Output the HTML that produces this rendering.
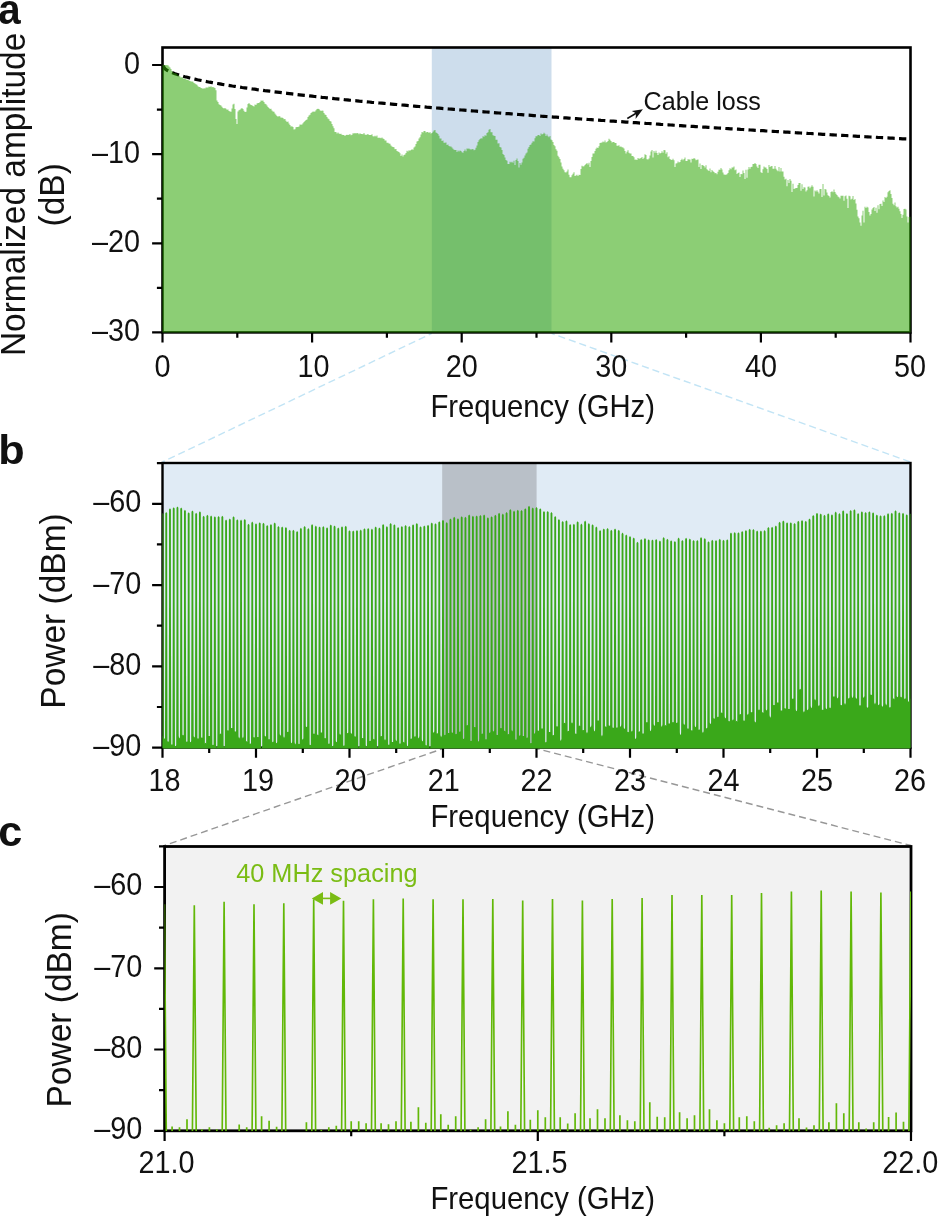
<!DOCTYPE html>
<html lang="en"><head><meta charset="utf-8"><title>Figure</title>
<style>html,body{margin:0;padding:0;background:#fff}svg{display:block}</style></head>
<body>
<svg width="939" height="1217" viewBox="0 0 939 1217" font-family='"Liberation Sans", Arial, Helvetica, sans-serif'>
<rect width="939" height="1217" fill="#fff"/>
<g fill="none" stroke="#c2e4f5" stroke-width="1.4" stroke-dasharray="7.2 3.9" stroke-dashoffset="3.8">
<path d="M431.8 333.4L162.5 462.0"/><path d="M551.5 333.4L910.5 462.0"/></g>
<g fill="none" stroke="#979797" stroke-width="1.4" stroke-dasharray="7 4" stroke-dashoffset="3.8">
<path d="M443.0 748.6L164.6 845.5"/><path d="M536.5 748.6L911.0 845.5"/></g>
<rect x="431.8" y="47.5" width="119.7" height="284.9" fill="#cdddec"/>
<rect x="162.5" y="47.5" width="748.0" height="284.9" fill="none" stroke="#000" stroke-width="2.6"/>
<path d="M162.5 332.4v10.2M312.1 332.4v10.2M461.7 332.4v10.2M611.3 332.4v10.2M760.9 332.4v10.2M910.5 332.4v10.2M237.3 332.4v5.4M386.9 332.4v5.4M536.5 332.4v5.4M686.1 332.4v5.4M835.7 332.4v5.4M162.5 65.0h-10.4M162.5 154.1h-10.4M162.5 243.3h-10.4M162.5 332.4h-10.4M162.5 109.6h-5.6M162.5 198.7h-5.6M162.5 287.8h-5.6" fill="none" stroke="#000" stroke-width="2.2"/>
<path d="M162.5 65.0L165.0 68.8L167.5 70.5L170.0 71.7L172.5 72.7L175.0 73.7L177.4 74.5L179.9 75.3L182.4 76.0L184.9 76.7L187.4 77.3L189.9 78.0L192.4 78.6L194.9 79.1L197.4 79.7L199.9 80.2L202.4 80.7L204.9 81.2L207.3 81.7L209.8 82.2L212.3 82.6L214.8 83.1L217.3 83.5L219.8 83.9L222.3 84.4L224.8 84.8L227.3 85.2L229.8 85.6L232.3 86.0L234.8 86.3L237.2 86.7L239.7 87.1L242.2 87.5L244.7 87.8L247.2 88.2L249.7 88.5L252.2 88.9L254.7 89.2L257.2 89.6L259.7 89.9L262.2 90.2L264.7 90.6L267.1 90.9L269.6 91.2L272.1 91.5L274.6 91.8L277.1 92.1L279.6 92.4L282.1 92.7L284.6 93.0L287.1 93.3L289.6 93.6L292.1 93.9L294.6 94.2L297.0 94.5L299.5 94.8L302.0 95.1L304.5 95.4L307.0 95.6L309.5 95.9L312.0 96.2L314.5 96.5L317.0 96.7L319.5 97.0L322.0 97.3L324.5 97.5L326.9 97.8L329.4 98.1L331.9 98.3L334.4 98.6L336.9 98.8L339.4 99.1L341.9 99.3L344.4 99.6L346.9 99.8L349.4 100.1L351.9 100.3L354.4 100.6L356.8 100.8L359.3 101.1L361.8 101.3L364.3 101.5L366.8 101.8L369.3 102.0L371.8 102.3L374.3 102.5L376.8 102.7L379.3 103.0L381.8 103.2L384.3 103.4L386.7 103.6L389.2 103.9L391.7 104.1L394.2 104.3L396.7 104.5L399.2 104.8L401.7 105.0L404.2 105.2L406.7 105.4L409.2 105.6L411.7 105.9L414.2 106.1L416.6 106.3L419.1 106.5L421.6 106.7L424.1 106.9L426.6 107.2L429.1 107.4L431.6 107.6L434.1 107.8L436.6 108.0L439.1 108.2L441.6 108.4L444.1 108.6L446.5 108.8L449.0 109.0L451.5 109.2L454.0 109.4L456.5 109.6L459.0 109.8L461.5 110.0L464.0 110.2L466.5 110.4L469.0 110.6L471.5 110.8L474.0 111.0L476.4 111.2L478.9 111.4L481.4 111.6L483.9 111.8L486.4 112.0L488.9 112.2L491.4 112.4L493.9 112.6L496.4 112.8L498.9 113.0L501.4 113.2L503.9 113.4L506.3 113.6L508.8 113.7L511.3 113.9L513.8 114.1L516.3 114.3L518.8 114.5L521.3 114.7L523.8 114.9L526.3 115.1L528.8 115.2L531.3 115.4L533.8 115.6L536.2 115.8L538.7 116.0L541.2 116.2L543.7 116.3L546.2 116.5L548.7 116.7L551.2 116.9L553.7 117.1L556.2 117.2L558.7 117.4L561.2 117.6L563.7 117.8L566.1 117.9L568.6 118.1L571.1 118.3L573.6 118.5L576.1 118.6L578.6 118.8L581.1 119.0L583.6 119.2L586.1 119.3L588.6 119.5L591.1 119.7L593.6 119.9L596.0 120.0L598.5 120.2L601.0 120.4L603.5 120.5L606.0 120.7L608.5 120.9L611.0 121.1L613.5 121.2L616.0 121.4L618.5 121.6L621.0 121.7L623.5 121.9L625.9 122.1L628.4 122.2L630.9 122.4L633.4 122.6L635.9 122.7L638.4 122.9L640.9 123.1L643.4 123.2L645.9 123.4L648.4 123.5L650.9 123.7L653.4 123.9L655.8 124.0L658.3 124.2L660.8 124.4L663.3 124.5L665.8 124.7L668.3 124.8L670.8 125.0L673.3 125.2L675.8 125.3L678.3 125.5L680.8 125.6L683.3 125.8L685.7 126.0L688.2 126.1L690.7 126.3L693.2 126.4L695.7 126.6L698.2 126.8L700.7 126.9L703.2 127.1L705.7 127.2L708.2 127.4L710.7 127.5L713.2 127.7L715.6 127.8L718.1 128.0L720.6 128.2L723.1 128.3L725.6 128.5L728.1 128.6L730.6 128.8L733.1 128.9L735.6 129.1L738.1 129.2L740.6 129.4L743.1 129.5L745.5 129.7L748.0 129.8L750.5 130.0L753.0 130.1L755.5 130.3L758.0 130.4L760.5 130.6L763.0 130.7L765.5 130.9L768.0 131.0L770.5 131.2L773.0 131.3L775.4 131.5L777.9 131.6L780.4 131.8L782.9 131.9L785.4 132.1L787.9 132.2L790.4 132.4L792.9 132.5L795.4 132.7L797.9 132.8L800.4 133.0L802.9 133.1L805.3 133.2L807.8 133.4L810.3 133.5L812.8 133.7L815.3 133.8L817.8 134.0L820.3 134.1L822.8 134.3L825.3 134.4L827.8 134.5L830.3 134.7L832.8 134.8L835.2 135.0L837.7 135.1L840.2 135.3L842.7 135.4L845.2 135.5L847.7 135.7L850.2 135.8L852.7 136.0L855.2 136.1L857.7 136.3L860.2 136.4L862.7 136.5L865.1 136.7L867.6 136.8L870.1 137.0L872.6 137.1L875.1 137.2L877.6 137.4L880.1 137.5L882.6 137.7L885.1 137.8L887.6 137.9L890.1 138.1L892.6 138.2L895.0 138.3L897.5 138.5L900.0 138.6L902.5 138.8L905.0 138.9L907.5 139.0" fill="none" stroke="#000" stroke-width="3.2" stroke-dasharray="7.3 4.3" stroke-dashoffset="10.54"/>
<path d="M162.5 332.4L162.5 64.8L163.5 64.8L163.5 65.6L164.5 65.6L164.5 64.9L165.5 64.9L165.5 65.1L166.5 65.1L166.5 65.3L167.5 65.3L167.5 65.3L168.5 65.3L168.5 66.6L169.5 66.6L169.5 67.4L170.5 67.4L170.5 69.1L171.5 69.1L171.5 70.9L172.5 70.9L172.5 72.4L173.5 72.4L173.5 73.2L174.5 73.2L174.5 73.2L175.5 73.2L175.5 73.4L176.5 73.4L176.5 74.3L177.5 74.3L177.5 75.8L178.5 75.8L178.5 75.5L179.5 75.5L179.5 76.4L180.5 76.4L180.5 77.7L181.5 77.7L181.5 76.9L182.5 76.9L182.5 78.1L183.5 78.1L183.5 79.0L184.5 79.0L184.5 78.4L185.5 78.4L185.5 79.2L186.5 79.2L186.5 80.1L187.5 80.1L187.5 79.4L188.5 79.4L188.5 80.4L189.5 80.4L189.5 81.1L190.5 81.1L190.5 81.4L191.5 81.4L191.5 81.5L192.5 81.5L192.5 81.8L193.5 81.8L193.5 82.9L194.5 82.9L194.5 83.4L195.5 83.4L195.5 84.3L196.5 84.3L196.5 84.8L197.5 84.8L197.5 86.3L198.5 86.3L198.5 86.9L199.5 86.9L199.5 86.9L200.5 86.9L200.5 88.0L201.5 88.0L201.5 88.2L202.5 88.2L202.5 88.8L203.5 88.8L203.5 88.3L204.5 88.3L204.5 88.4L205.5 88.4L205.5 87.6L206.5 87.6L206.5 87.4L207.5 87.4L207.5 87.4L208.5 87.4L208.5 86.6L209.5 86.6L209.5 87.0L210.5 87.0L210.5 86.2L211.5 86.2L211.5 87.3L212.5 87.3L212.5 87.1L213.5 87.1L213.5 87.4L214.5 87.4L214.5 88.0L215.5 88.0L215.5 90.2L216.5 90.2L216.5 100.6L217.5 100.6L217.5 101.9L218.5 101.9L218.5 104.3L219.5 104.3L219.5 104.9L220.5 104.9L220.5 105.5L221.5 105.5L221.5 106.7L222.5 106.7L222.5 108.1L223.5 108.1L223.5 108.5L224.5 108.5L224.5 108.0L225.5 108.0L225.5 108.8L226.5 108.8L226.5 109.7L227.5 109.7L227.5 109.5L228.5 109.5L228.5 111.1L229.5 111.1L229.5 111.5L230.5 111.5L230.5 111.8L231.5 111.8L231.5 108.6L232.5 108.6L232.5 104.6L233.5 104.6L233.5 103.7L234.5 103.7L234.5 109.1L235.5 109.1L235.5 119.0L236.5 119.0L236.5 124.0L237.5 124.0L237.5 111.6L238.5 111.6L238.5 110.2L239.5 110.2L239.5 109.7L240.5 109.7L240.5 108.8L241.5 108.8L241.5 107.9L242.5 107.9L242.5 109.0L243.5 109.0L243.5 110.7L244.5 110.7L244.5 112.1L245.5 112.1L245.5 111.7L246.5 111.7L246.5 107.5L247.5 107.5L247.5 104.0L248.5 104.0L248.5 103.1L249.5 103.1L249.5 104.2L250.5 104.2L250.5 105.0L251.5 105.0L251.5 105.3L252.5 105.3L252.5 106.1L253.5 106.1L253.5 106.5L254.5 106.5L254.5 104.4L255.5 104.4L255.5 105.1L256.5 105.1L256.5 103.4L257.5 103.4L257.5 103.1L258.5 103.1L258.5 102.9L259.5 102.9L259.5 102.1L260.5 102.1L260.5 100.5L261.5 100.5L261.5 100.7L262.5 100.7L262.5 100.4L263.5 100.4L263.5 102.0L264.5 102.0L264.5 103.8L265.5 103.8L265.5 104.2L266.5 104.2L266.5 105.6L267.5 105.6L267.5 106.9L268.5 106.9L268.5 108.0L269.5 108.0L269.5 108.9L270.5 108.9L270.5 108.7L271.5 108.7L271.5 110.4L272.5 110.4L272.5 111.4L273.5 111.4L273.5 111.7L274.5 111.7L274.5 113.6L275.5 113.6L275.5 114.7L276.5 114.7L276.5 116.1L277.5 116.1L277.5 116.8L278.5 116.8L278.5 115.9L279.5 115.9L279.5 116.6L280.5 116.6L280.5 117.8L281.5 117.8L281.5 117.4L282.5 117.4L282.5 118.1L283.5 118.1L283.5 119.2L284.5 119.2L284.5 119.0L285.5 119.0L285.5 120.7L286.5 120.7L286.5 121.9L287.5 121.9L287.5 121.5L288.5 121.5L288.5 123.5L289.5 123.5L289.5 125.0L290.5 125.0L290.5 126.4L291.5 126.4L291.5 126.2L292.5 126.2L292.5 127.1L293.5 127.1L293.5 129.5L294.5 129.5L294.5 129.2L295.5 129.2L295.5 127.3L296.5 127.3L296.5 127.0L297.5 127.0L297.5 126.9L298.5 126.9L298.5 126.5L299.5 126.5L299.5 124.6L300.5 124.6L300.5 124.8L301.5 124.8L301.5 124.4L302.5 124.4L302.5 123.3L303.5 123.3L303.5 121.9L304.5 121.9L304.5 120.9L305.5 120.9L305.5 120.0L306.5 120.0L306.5 119.6L307.5 119.6L307.5 116.9L308.5 116.9L308.5 115.5L309.5 115.5L309.5 114.8L310.5 114.8L310.5 113.0L311.5 113.0L311.5 112.3L312.5 112.3L312.5 111.5L313.5 111.5L313.5 111.7L314.5 111.7L314.5 111.4L315.5 111.4L315.5 110.2L316.5 110.2L316.5 109.0L317.5 109.0L317.5 108.7L318.5 108.7L318.5 109.0L319.5 109.0L319.5 110.3L320.5 110.3L320.5 111.1L321.5 111.1L321.5 110.5L322.5 110.5L322.5 110.8L323.5 110.8L323.5 113.0L324.5 113.0L324.5 114.5L325.5 114.5L325.5 115.0L326.5 115.0L326.5 116.9L327.5 116.9L327.5 118.4L328.5 118.4L328.5 119.2L329.5 119.2L329.5 121.1L330.5 121.1L330.5 121.4L331.5 121.4L331.5 124.0L332.5 124.0L332.5 126.3L333.5 126.3L333.5 128.2L334.5 128.2L334.5 131.9L335.5 131.9L335.5 131.9L336.5 131.9L336.5 133.4L337.5 133.4L337.5 132.6L338.5 132.6L338.5 133.5L339.5 133.5L339.5 133.9L340.5 133.9L340.5 133.8L341.5 133.8L341.5 134.8L342.5 134.8L342.5 135.1L343.5 135.1L343.5 135.0L344.5 135.0L344.5 136.1L345.5 136.1L345.5 135.0L346.5 135.0L346.5 134.8L347.5 134.8L347.5 134.9L348.5 134.9L348.5 134.7L349.5 134.7L349.5 134.1L350.5 134.1L350.5 135.2L351.5 135.2L351.5 134.8L352.5 134.8L352.5 133.2L353.5 133.2L353.5 133.4L354.5 133.4L354.5 133.1L355.5 133.1L355.5 133.4L356.5 133.4L356.5 133.0L357.5 133.0L357.5 133.3L358.5 133.3L358.5 134.2L359.5 134.2L359.5 133.3L360.5 133.3L360.5 133.9L361.5 133.9L361.5 133.9L362.5 133.9L362.5 134.3L363.5 134.3L363.5 133.1L364.5 133.1L364.5 134.5L365.5 134.5L365.5 135.0L366.5 135.0L366.5 134.5L367.5 134.5L367.5 134.0L368.5 134.0L368.5 134.9L369.5 134.9L369.5 135.0L370.5 135.0L370.5 135.1L371.5 135.1L371.5 134.3L372.5 134.3L372.5 136.2L373.5 136.2L373.5 136.5L374.5 136.5L374.5 135.8L375.5 135.8L375.5 136.4L376.5 136.4L376.5 135.6L377.5 135.6L377.5 137.7L378.5 137.7L378.5 137.7L379.5 137.7L379.5 137.7L380.5 137.7L380.5 138.2L381.5 138.2L381.5 137.4L382.5 137.4L382.5 138.4L383.5 138.4L383.5 139.1L384.5 139.1L384.5 140.6L385.5 140.6L385.5 140.4L386.5 140.4L386.5 142.8L387.5 142.8L387.5 142.7L388.5 142.7L388.5 143.5L389.5 143.5L389.5 143.7L390.5 143.7L390.5 145.6L391.5 145.6L391.5 146.6L392.5 146.6L392.5 147.1L393.5 147.1L393.5 147.3L394.5 147.3L394.5 149.2L395.5 149.2L395.5 148.9L396.5 148.9L396.5 151.1L397.5 151.1L397.5 151.5L398.5 151.5L398.5 151.9L399.5 151.9L399.5 153.2L400.5 153.2L400.5 155.9L401.5 155.9L401.5 154.5L402.5 154.5L402.5 156.6L403.5 156.6L403.5 154.9L404.5 154.9L404.5 154.4L405.5 154.4L405.5 153.0L406.5 153.0L406.5 150.8L407.5 150.8L407.5 151.4L408.5 151.4L408.5 150.3L409.5 150.3L409.5 150.8L410.5 150.8L410.5 149.9L411.5 149.9L411.5 149.3L412.5 149.3L412.5 149.8L413.5 149.8L413.5 147.5L414.5 147.5L414.5 146.5L415.5 146.5L415.5 144.1L416.5 144.1L416.5 141.5L417.5 141.5L417.5 140.9L418.5 140.9L418.5 138.5L419.5 138.5L419.5 137.2L420.5 137.2L420.5 134.6L421.5 134.6L421.5 132.1L422.5 132.1L422.5 132.6L423.5 132.6L423.5 131.0L424.5 131.0L424.5 131.0L425.5 131.0L425.5 132.5L426.5 132.5L426.5 131.9L427.5 131.9L427.5 132.0L428.5 132.0L428.5 133.1L429.5 133.1L429.5 132.1L430.5 132.1L430.5 133.4L431.5 133.4L431.5 133.0L432.5 133.0L432.5 131.7L433.5 131.7L433.5 130.5L434.5 130.5L434.5 130.1L435.5 130.1L435.5 132.6L436.5 132.6L436.5 133.0L437.5 133.0L437.5 134.0L438.5 134.0L438.5 135.8L439.5 135.8L439.5 138.5L440.5 138.5L440.5 138.5L441.5 138.5L441.5 141.0L442.5 141.0L442.5 140.4L443.5 140.4L443.5 142.8L444.5 142.8L444.5 142.7L445.5 142.7L445.5 142.5L446.5 142.5L446.5 145.0L447.5 145.0L447.5 144.6L448.5 144.6L448.5 146.1L449.5 146.1L449.5 146.5L450.5 146.5L450.5 146.6L451.5 146.6L451.5 147.6L452.5 147.6L452.5 148.7L453.5 148.7L453.5 149.7L454.5 149.7L454.5 150.0L455.5 150.0L455.5 150.1L456.5 150.1L456.5 152.0L457.5 152.0L457.5 150.4L458.5 150.4L458.5 151.4L459.5 151.4L459.5 150.6L460.5 150.6L460.5 151.0L461.5 151.0L461.5 152.3L462.5 152.3L462.5 152.7L463.5 152.7L463.5 151.1L464.5 151.1L464.5 149.5L465.5 149.5L465.5 151.2L466.5 151.2L466.5 148.5L467.5 148.5L467.5 148.7L468.5 148.7L468.5 148.5L469.5 148.5L469.5 149.3L470.5 149.3L470.5 149.4L471.5 149.4L471.5 149.2L472.5 149.2L472.5 149.0L473.5 149.0L473.5 150.3L474.5 150.3L474.5 149.7L475.5 149.7L475.5 147.7L476.5 147.7L476.5 145.4L477.5 145.4L477.5 141.9L478.5 141.9L478.5 140.3L479.5 140.3L479.5 138.9L480.5 138.9L480.5 138.3L481.5 138.3L481.5 138.4L482.5 138.4L482.5 136.3L483.5 136.3L483.5 136.7L484.5 136.7L484.5 135.3L485.5 135.3L485.5 135.7L486.5 135.7L486.5 133.0L487.5 133.0L487.5 132.2L488.5 132.2L488.5 129.8L489.5 129.8L489.5 128.9L490.5 128.9L490.5 132.3L491.5 132.3L491.5 132.2L492.5 132.2L492.5 135.2L493.5 135.2L493.5 135.8L494.5 135.8L494.5 136.1L495.5 136.1L495.5 139.8L496.5 139.8L496.5 139.8L497.5 139.8L497.5 143.6L498.5 143.6L498.5 143.3L499.5 143.3L499.5 146.9L500.5 146.9L500.5 147.4L501.5 147.4L501.5 150.0L502.5 150.0L502.5 153.9L503.5 153.9L503.5 154.9L504.5 154.9L504.5 157.6L505.5 157.6L505.5 160.1L506.5 160.1L506.5 160.7L507.5 160.7L507.5 164.0L508.5 164.0L508.5 164.0L509.5 164.0L509.5 161.7L510.5 161.7L510.5 162.6L511.5 162.6L511.5 161.7L512.5 161.7L512.5 162.8L513.5 162.8L513.5 160.7L514.5 160.7L514.5 165.0L515.5 165.0L515.5 160.1L516.5 160.1L516.5 158.6L517.5 158.6L517.5 161.1L518.5 161.1L518.5 167.6L519.5 167.6L519.5 163.0L520.5 163.0L520.5 164.8L521.5 164.8L521.5 162.6L522.5 162.6L522.5 158.8L523.5 158.8L523.5 157.7L524.5 157.7L524.5 155.4L525.5 155.4L525.5 153.4L526.5 153.4L526.5 152.5L527.5 152.5L527.5 148.7L528.5 148.7L528.5 147.0L529.5 147.0L529.5 145.0L530.5 145.0L530.5 144.5L531.5 144.5L531.5 142.8L532.5 142.8L532.5 141.3L533.5 141.3L533.5 141.5L534.5 141.5L534.5 138.3L535.5 138.3L535.5 136.2L536.5 136.2L536.5 136.2L537.5 136.2L537.5 134.9L538.5 134.9L538.5 135.0L539.5 135.0L539.5 136.1L540.5 136.1L540.5 133.4L541.5 133.4L541.5 134.4L542.5 134.4L542.5 134.1L543.5 134.1L543.5 132.7L544.5 132.7L544.5 133.8L545.5 133.8L545.5 136.0L546.5 136.0L546.5 134.5L547.5 134.5L547.5 136.2L548.5 136.2L548.5 137.2L549.5 137.2L549.5 136.1L550.5 136.1L550.5 139.4L551.5 139.4L551.5 140.3L552.5 140.3L552.5 142.1L553.5 142.1L553.5 145.0L554.5 145.0L554.5 146.2L555.5 146.2L555.5 149.3L556.5 149.3L556.5 150.7L557.5 150.7L557.5 155.7L558.5 155.7L558.5 157.2L559.5 157.2L559.5 159.0L560.5 159.0L560.5 162.4L561.5 162.4L561.5 166.6L562.5 166.6L562.5 168.8L563.5 168.8L563.5 170.2L564.5 170.2L564.5 172.2L565.5 172.2L565.5 172.5L566.5 172.5L566.5 171.5L567.5 171.5L567.5 169.4L568.5 169.4L568.5 174.7L569.5 174.7L569.5 177.3L570.5 177.3L570.5 177.2L571.5 177.2L571.5 175.3L572.5 175.3L572.5 173.8L573.5 173.8L573.5 172.3L574.5 172.3L574.5 175.9L575.5 175.9L575.5 175.6L576.5 175.6L576.5 174.7L577.5 174.7L577.5 175.9L578.5 175.9L578.5 174.7L579.5 174.7L579.5 175.0L580.5 175.0L580.5 168.9L581.5 168.9L581.5 165.8L582.5 165.8L582.5 166.5L583.5 166.5L583.5 166.3L584.5 166.3L584.5 165.1L585.5 165.1L585.5 164.0L586.5 164.0L586.5 163.0L587.5 163.0L587.5 164.5L588.5 164.5L588.5 162.7L589.5 162.7L589.5 167.1L590.5 167.1L590.5 160.9L591.5 160.9L591.5 157.1L592.5 157.1L592.5 153.6L593.5 153.6L593.5 153.4L594.5 153.4L594.5 150.9L595.5 150.9L595.5 148.7L596.5 148.7L596.5 147.4L597.5 147.4L597.5 147.9L598.5 147.9L598.5 146.3L599.5 146.3L599.5 142.9L600.5 142.9L600.5 142.8L601.5 142.8L601.5 142.6L602.5 142.6L602.5 141.5L603.5 141.5L603.5 142.2L604.5 142.2L604.5 140.5L605.5 140.5L605.5 142.6L606.5 142.6L606.5 141.9L607.5 141.9L607.5 141.0L608.5 141.0L608.5 138.7L609.5 138.7L609.5 139.7L610.5 139.7L610.5 141.0L611.5 141.0L611.5 142.4L612.5 142.4L612.5 142.0L613.5 142.0L613.5 142.1L614.5 142.1L614.5 143.0L615.5 143.0L615.5 143.0L616.5 143.0L616.5 145.8L617.5 145.8L617.5 145.8L618.5 145.8L618.5 145.2L619.5 145.2L619.5 146.8L620.5 146.8L620.5 146.6L621.5 146.6L621.5 147.3L622.5 147.3L622.5 147.4L623.5 147.4L623.5 148.5L624.5 148.5L624.5 151.0L625.5 151.0L625.5 153.5L626.5 153.5L626.5 151.8L627.5 151.8L627.5 150.3L628.5 150.3L628.5 152.8L629.5 152.8L629.5 153.4L630.5 153.4L630.5 153.6L631.5 153.6L631.5 155.9L632.5 155.9L632.5 155.9L633.5 155.9L633.5 157.3L634.5 157.3L634.5 159.7L635.5 159.7L635.5 159.6L636.5 159.6L636.5 160.0L637.5 160.0L637.5 158.1L638.5 158.1L638.5 158.7L639.5 158.7L639.5 158.5L640.5 158.5L640.5 157.9L641.5 157.9L641.5 157.0L642.5 157.0L642.5 159.1L643.5 159.1L643.5 157.8L644.5 157.8L644.5 154.3L645.5 154.3L645.5 155.1L646.5 155.1L646.5 159.3L647.5 159.3L647.5 159.6L648.5 159.6L648.5 158.5L649.5 158.5L649.5 155.5L650.5 155.5L650.5 151.5L651.5 151.5L651.5 150.1L652.5 150.1L652.5 157.4L653.5 157.4L653.5 151.0L654.5 151.0L654.5 152.7L655.5 152.7L655.5 150.7L656.5 150.7L656.5 153.1L657.5 153.1L657.5 155.1L658.5 155.1L658.5 152.5L659.5 152.5L659.5 153.4L660.5 153.4L660.5 153.1L661.5 153.1L661.5 151.2L662.5 151.2L662.5 152.7L663.5 152.7L663.5 150.1L664.5 150.1L664.5 150.3L665.5 150.3L665.5 153.7L666.5 153.7L666.5 152.3L667.5 152.3L667.5 157.2L668.5 157.2L668.5 156.3L669.5 156.3L669.5 158.9L670.5 158.9L670.5 159.7L671.5 159.7L671.5 160.0L672.5 160.0L672.5 158.8L673.5 158.8L673.5 160.2L674.5 160.2L674.5 167.0L675.5 167.0L675.5 163.4L676.5 163.4L676.5 163.2L677.5 163.2L677.5 161.6L678.5 161.6L678.5 162.6L679.5 162.6L679.5 162.1L680.5 162.1L680.5 160.0L681.5 160.0L681.5 158.7L682.5 158.7L682.5 160.2L683.5 160.2L683.5 158.9L684.5 158.9L684.5 157.4L685.5 157.4L685.5 161.0L686.5 161.0L686.5 160.9L687.5 160.9L687.5 159.3L688.5 159.3L688.5 159.5L689.5 159.5L689.5 159.6L690.5 159.6L690.5 162.5L691.5 162.5L691.5 158.8L692.5 158.8L692.5 159.1L693.5 159.1L693.5 158.1L694.5 158.1L694.5 158.7L695.5 158.7L695.5 160.3L696.5 160.3L696.5 159.8L697.5 159.8L697.5 159.6L698.5 159.6L698.5 166.9L699.5 166.9L699.5 163.4L700.5 163.4L700.5 169.1L701.5 169.1L701.5 165.0L702.5 165.0L702.5 165.2L703.5 165.2L703.5 165.9L704.5 165.9L704.5 167.6L705.5 167.6L705.5 165.3L706.5 165.3L706.5 169.3L707.5 169.3L707.5 170.2L708.5 170.2L708.5 171.1L709.5 171.1L709.5 168.6L710.5 168.6L710.5 172.2L711.5 172.2L711.5 170.0L712.5 170.0L712.5 171.3L713.5 171.3L713.5 172.1L714.5 172.1L714.5 173.2L715.5 173.2L715.5 172.9L716.5 172.9L716.5 174.3L717.5 174.3L717.5 171.7L718.5 171.7L718.5 169.7L719.5 169.7L719.5 169.7L720.5 169.7L720.5 167.9L721.5 167.9L721.5 169.5L722.5 169.5L722.5 172.6L723.5 172.6L723.5 174.4L724.5 174.4L724.5 174.8L725.5 174.8L725.5 174.8L726.5 174.8L726.5 174.3L727.5 174.3L727.5 172.9L728.5 172.9L728.5 170.3L729.5 170.3L729.5 168.3L730.5 168.3L730.5 169.3L731.5 169.3L731.5 167.6L732.5 167.6L732.5 167.6L733.5 167.6L733.5 166.4L734.5 166.4L734.5 170.2L735.5 170.2L735.5 169.5L736.5 169.5L736.5 174.0L737.5 174.0L737.5 173.1L738.5 173.1L738.5 172.6L739.5 172.6L739.5 177.0L740.5 177.0L740.5 174.1L741.5 174.1L741.5 174.2L742.5 174.2L742.5 170.5L743.5 170.5L743.5 172.9L744.5 172.9L744.5 179.0L745.5 179.0L745.5 169.7L746.5 169.7L746.5 177.8L747.5 177.8L747.5 169.6L748.5 169.6L748.5 167.0L749.5 167.0L749.5 168.8L750.5 168.8L750.5 167.0L751.5 167.0L751.5 166.7L752.5 166.7L752.5 163.9L753.5 163.9L753.5 164.1L754.5 164.1L754.5 163.1L755.5 163.1L755.5 164.1L756.5 164.1L756.5 166.5L757.5 166.5L757.5 168.1L758.5 168.1L758.5 164.8L759.5 164.8L759.5 164.8L760.5 164.8L760.5 172.3L761.5 172.3L761.5 173.0L762.5 173.0L762.5 169.2L763.5 169.2L763.5 166.4L764.5 166.4L764.5 167.5L765.5 167.5L765.5 167.6L766.5 167.6L766.5 169.0L767.5 169.0L767.5 172.7L768.5 172.7L768.5 164.9L769.5 164.9L769.5 167.1L770.5 167.1L770.5 166.3L771.5 166.3L771.5 166.1L772.5 166.1L772.5 168.7L773.5 168.7L773.5 168.7L774.5 168.7L774.5 166.1L775.5 166.1L775.5 168.7L776.5 168.7L776.5 170.3L777.5 170.3L777.5 171.2L778.5 171.2L778.5 167.1L779.5 167.1L779.5 171.5L780.5 171.5L780.5 168.1L781.5 168.1L781.5 171.6L782.5 171.6L782.5 171.5L783.5 171.5L783.5 176.8L784.5 176.8L784.5 179.6L785.5 179.6L785.5 178.7L786.5 178.7L786.5 186.3L787.5 186.3L787.5 179.9L788.5 179.9L788.5 183.0L789.5 183.0L789.5 179.1L790.5 179.1L790.5 180.8L791.5 180.8L791.5 192.0L792.5 192.0L792.5 183.7L793.5 183.7L793.5 188.9L794.5 188.9L794.5 188.5L795.5 188.5L795.5 188.0L796.5 188.0L796.5 188.1L797.5 188.1L797.5 185.0L798.5 185.0L798.5 182.9L799.5 182.9L799.5 182.9L800.5 182.9L800.5 190.7L801.5 190.7L801.5 184.2L802.5 184.2L802.5 189.1L803.5 189.1L803.5 187.3L804.5 187.3L804.5 187.6L805.5 187.6L805.5 191.6L806.5 191.6L806.5 190.2L807.5 190.2L807.5 186.7L808.5 186.7L808.5 186.4L809.5 186.4L809.5 188.3L810.5 188.3L810.5 186.7L811.5 186.7L811.5 185.3L812.5 185.3L812.5 186.8L813.5 186.8L813.5 196.5L814.5 196.5L814.5 190.5L815.5 190.5L815.5 191.6L816.5 191.6L816.5 190.3L817.5 190.3L817.5 191.8L818.5 191.8L818.5 193.5L819.5 193.5L819.5 189.1L820.5 189.1L820.5 188.9L821.5 188.9L821.5 197.0L822.5 197.0L822.5 184.0L823.5 184.0L823.5 195.4L824.5 195.4L824.5 189.1L825.5 189.1L825.5 189.5L826.5 189.5L826.5 192.6L827.5 192.6L827.5 195.3L828.5 195.3L828.5 196.1L829.5 196.1L829.5 197.4L830.5 197.4L830.5 191.9L831.5 191.9L831.5 191.3L832.5 191.3L832.5 192.3L833.5 192.3L833.5 189.5L834.5 189.5L834.5 192.0L835.5 192.0L835.5 193.8L836.5 193.8L836.5 194.9L837.5 194.9L837.5 196.5L838.5 196.5L838.5 197.3L839.5 197.3L839.5 198.6L840.5 198.6L840.5 195.8L841.5 195.8L841.5 195.7L842.5 195.7L842.5 195.7L843.5 195.7L843.5 200.8L844.5 200.8L844.5 196.3L845.5 196.3L845.5 195.5L846.5 195.5L846.5 198.7L847.5 198.7L847.5 208.1L848.5 208.1L848.5 195.7L849.5 195.7L849.5 196.2L850.5 196.2L850.5 199.6L851.5 199.6L851.5 198.7L852.5 198.7L852.5 196.1L853.5 196.1L853.5 199.9L854.5 199.9L854.5 199.0L855.5 199.0L855.5 203.5L856.5 203.5L856.5 209.8L857.5 209.8L857.5 216.6L858.5 216.6L858.5 218.3L859.5 218.3L859.5 222.4L860.5 222.4L860.5 225.7L861.5 225.7L861.5 215.4L862.5 215.4L862.5 210.7L863.5 210.7L863.5 222.6L864.5 222.6L864.5 206.7L865.5 206.7L865.5 207.9L866.5 207.9L866.5 206.7L867.5 206.7L867.5 207.4L868.5 207.4L868.5 212.1L869.5 212.1L869.5 215.6L870.5 215.6L870.5 214.1L871.5 214.1L871.5 209.4L872.5 209.4L872.5 208.0L873.5 208.0L873.5 207.1L874.5 207.1L874.5 211.1L875.5 211.1L875.5 207.8L876.5 207.8L876.5 212.7L877.5 212.7L877.5 205.3L878.5 205.3L878.5 209.2L879.5 209.2L879.5 204.0L880.5 204.0L880.5 203.7L881.5 203.7L881.5 206.0L882.5 206.0L882.5 200.6L883.5 200.6L883.5 202.1L884.5 202.1L884.5 197.0L885.5 197.0L885.5 198.0L886.5 198.0L886.5 196.8L887.5 196.8L887.5 192.2L888.5 192.2L888.5 190.9L889.5 190.9L889.5 190.3L890.5 190.3L890.5 194.0L891.5 194.0L891.5 198.0L892.5 198.0L892.5 203.8L893.5 203.8L893.5 205.3L894.5 205.3L894.5 202.4L895.5 202.4L895.5 206.3L896.5 206.3L896.5 207.6L897.5 207.6L897.5 206.7L898.5 206.7L898.5 208.8L899.5 208.8L899.5 211.3L900.5 211.3L900.5 214.0L901.5 214.0L901.5 218.1L902.5 218.1L902.5 214.7L903.5 214.7L903.5 208.9L904.5 208.9L904.5 208.7L905.5 208.7L905.5 209.4L906.5 209.4L906.5 216.4L907.5 216.4L907.5 222.5L908.5 222.5L908.5 217.0L909.5 217.0L909.5 216.8L910.5 216.8L910.5 220.6L910.5 220.6L910.5 332.4Z" fill="rgb(46,166,4)" fill-opacity="0.55"/>
<path d="M627.3 118.5L637 112.8" stroke="#111" stroke-width="1.6" fill="none"/>
<path d="M642.9 109.2L631.8 110.9L636.0 113.3L635.6 118.9Z" fill="#111"/>
<text x="643.6" y="110.4" font-size="25.1" fill="#111">Cable loss</text>
<text transform="translate(162.5,376.6) scale(1,1.08)" font-size="28.8" text-anchor="middle" fill="#111">0</text>
<text transform="translate(313.4,376.6) scale(1,1.08)" font-size="28.8" text-anchor="middle" fill="#111">10</text>
<text transform="translate(461.7,376.6) scale(1,1.08)" font-size="28.8" text-anchor="middle" fill="#111">20</text>
<text transform="translate(611.3,376.6) scale(1,1.08)" font-size="28.8" text-anchor="middle" fill="#111">30</text>
<text transform="translate(760.9,376.6) scale(1,1.08)" font-size="28.8" text-anchor="middle" fill="#111">40</text>
<text transform="translate(910.1,376.6) scale(1,1.08)" font-size="28.8" text-anchor="middle" fill="#111">50</text>
<text transform="translate(140.1,74.0) scale(1,1.08)" font-size="28.8" text-anchor="end" fill="#111">0</text>
<text transform="translate(140.1,163.1) scale(1,1.08)" font-size="28.8" text-anchor="end" fill="#111">–10</text>
<text transform="translate(140.1,252.3) scale(1,1.08)" font-size="28.8" text-anchor="end" fill="#111">–20</text>
<text transform="translate(140.1,341.4) scale(1,1.08)" font-size="28.8" text-anchor="end" fill="#111">–30</text>
<text transform="translate(542.7,417.3) scale(1,1.04)" font-size="29.3" text-anchor="middle" fill="#111">Frequency (GHz)</text>
<text transform="translate(24.5,194.4) rotate(-90) scale(1,1.04)" font-size="33.45" text-anchor="middle" fill="#111">Normalized amplitude</text>
<text transform="translate(64.2,194.8) rotate(-90) scale(1,1.04)" font-size="33.5" text-anchor="middle" fill="#111">(dB)</text>
<text transform="translate(-1.7,23.5) scale(0.96,1.03)" font-size="42" font-weight="bold" fill="#111">a</text>
<rect x="162.5" y="463.0" width="748.0" height="284.6" fill="#e0ebf5"/>
<rect x="442.2" y="463.0" width="94.4" height="284.6" fill="#b9c0c8"/>
<rect x="162.5" y="463.0" width="748.0" height="284.6" fill="none" stroke="#000" stroke-width="2.4"/>
<path d="M162.5 747.6v10.2M256.0 747.6v10.2M349.5 747.6v10.2M443.0 747.6v10.2M536.5 747.6v10.2M630.0 747.6v10.2M723.5 747.6v10.2M817.0 747.6v10.2M910.5 747.6v10.2M209.2 747.6v5.4M302.8 747.6v5.4M396.2 747.6v5.4M489.8 747.6v5.4M583.2 747.6v5.4M676.8 747.6v5.4M770.2 747.6v5.4M863.8 747.6v5.4M162.5 503.8h-10.4M162.5 585.1h-10.4M162.5 666.3h-10.4M162.5 747.6h-10.4M162.5 463.2h-5.6M162.5 544.4h-5.6M162.5 625.7h-5.6M162.5 707.0h-5.6" fill="none" stroke="#000" stroke-width="2.2"/>
<clipPath id="cb"><rect x="162.5" y="463.0" width="748.0" height="286.6"/></clipPath>
<g clip-path="url(#cb)"><path d="M161.23 748.1L161.57 600V514.2L162.50 512.9L163.43 514.2V600L163.77 748.1ZM164.97 748.1L165.31 600V513.2L166.24 511.9L167.17 513.2V600L167.51 748.1ZM168.71 748.1L169.05 600V509.5L169.98 508.2L170.91 509.5V600L171.25 748.1ZM172.45 748.1L172.79 600V508.5L173.72 507.2L174.65 508.5V600L174.99 748.1ZM176.19 748.1L176.53 600V507.7L177.46 506.4L178.39 507.7V600L178.73 748.1ZM179.93 748.1L180.27 600V508.7L181.20 507.4L182.13 508.7V600L182.47 748.1ZM183.67 748.1L184.01 600V511.0L184.94 509.7L185.87 511.0V600L186.21 748.1ZM187.41 748.1L187.75 600V513.5L188.68 512.2L189.61 513.5V600L189.95 748.1ZM191.15 748.1L191.49 600V511.7L192.42 510.4L193.35 511.7V600L193.69 748.1ZM194.89 748.1L195.23 600V514.1L196.16 512.8L197.09 514.1V600L197.43 748.1ZM198.63 748.1L198.97 600V512.5L199.90 511.2L200.83 512.5V600L201.17 748.1ZM202.37 748.1L202.71 600V517.0L203.64 515.7L204.57 517.0V600L204.91 748.1ZM206.11 748.1L206.45 600V516.1L207.38 514.8L208.31 516.1V600L208.65 748.1ZM209.85 748.1L210.19 600V516.8L211.12 515.5L212.05 516.8V600L212.39 748.1ZM213.59 748.1L213.93 600V517.6L214.86 516.3L215.79 517.6V600L216.13 748.1ZM217.33 748.1L217.67 600V517.3L218.60 516.0L219.53 517.3V600L219.87 748.1ZM221.07 748.1L221.41 600V517.1L222.34 515.8L223.27 517.1V600L223.61 748.1ZM224.81 748.1L225.15 600V520.7L226.08 519.4L227.01 520.7V600L227.35 748.1ZM228.55 748.1L228.89 600V519.8L229.82 518.5L230.75 519.8V600L231.09 748.1ZM232.29 748.1L232.63 600V517.6L233.56 516.3L234.49 517.6V600L234.83 748.1ZM236.03 748.1L236.37 600V520.5L237.30 519.2L238.23 520.5V600L238.57 748.1ZM239.77 748.1L240.11 600V520.9L241.04 519.6L241.97 520.9V600L242.31 748.1ZM243.51 748.1L243.85 600V520.2L244.78 518.9L245.71 520.2V600L246.05 748.1ZM247.25 748.1L247.59 600V525.1L248.52 523.8L249.45 525.1V600L249.79 748.1ZM250.99 748.1L251.33 600V522.9L252.26 521.6L253.19 522.9V600L253.53 748.1ZM254.73 748.1L255.07 600V524.5L256.00 523.2L256.93 524.5V600L257.27 748.1ZM258.47 748.1L258.81 600V523.6L259.74 522.3L260.67 523.6V600L261.01 748.1ZM262.21 748.1L262.55 600V524.1L263.48 522.8L264.41 524.1V600L264.75 748.1ZM265.95 748.1L266.29 600V526.3L267.22 525.0L268.15 526.3V600L268.49 748.1ZM269.69 748.1L270.03 600V525.3L270.96 524.0L271.89 525.3V600L272.23 748.1ZM273.43 748.1L273.77 600V523.8L274.70 522.5L275.63 523.8V600L275.97 748.1ZM277.17 748.1L277.51 600V527.2L278.44 525.9L279.37 527.2V600L279.71 748.1ZM280.91 748.1L281.25 600V527.7L282.18 526.4L283.11 527.7V600L283.45 748.1ZM284.65 748.1L284.99 600V528.3L285.92 527.0L286.85 528.3V600L287.19 748.1ZM288.39 748.1L288.73 600V531.1L289.66 529.8L290.59 531.1V600L290.93 748.1ZM292.13 748.1L292.47 600V531.0L293.40 529.7L294.33 531.0V600L294.67 748.1ZM295.87 748.1L296.21 600V532.3L297.14 531.0L298.07 532.3V600L298.41 748.1ZM299.61 748.1L299.95 600V529.1L300.88 527.8L301.81 529.1V600L302.15 748.1ZM303.35 748.1L303.69 600V527.2L304.62 525.9L305.55 527.2V600L305.89 748.1ZM307.09 748.1L307.43 600V529.4L308.36 528.1L309.29 529.4V600L309.63 748.1ZM310.83 748.1L311.17 600V525.4L312.10 524.1L313.03 525.4V600L313.37 748.1ZM314.57 748.1L314.91 600V526.9L315.84 525.6L316.77 526.9V600L317.11 748.1ZM318.31 748.1L318.65 600V527.8L319.58 526.5L320.51 527.8V600L320.85 748.1ZM322.05 748.1L322.39 600V527.4L323.32 526.1L324.25 527.4V600L324.59 748.1ZM325.79 748.1L326.13 600V528.5L327.06 527.2L327.99 528.5V600L328.33 748.1ZM329.53 748.1L329.87 600V525.8L330.80 524.5L331.73 525.8V600L332.07 748.1ZM333.27 748.1L333.61 600V526.8L334.54 525.5L335.47 526.8V600L335.81 748.1ZM337.01 748.1L337.35 600V528.8L338.28 527.5L339.21 528.8V600L339.55 748.1ZM340.75 748.1L341.09 600V527.5L342.02 526.2L342.95 527.5V600L343.29 748.1ZM344.49 748.1L344.83 600V527.1L345.76 525.8L346.69 527.1V600L347.03 748.1ZM348.23 748.1L348.57 600V531.6L349.50 530.3L350.43 531.6V600L350.77 748.1ZM351.97 748.1L352.31 600V531.7L353.24 530.4L354.17 531.7V600L354.51 748.1ZM355.71 748.1L356.05 600V531.3L356.98 530.0L357.91 531.3V600L358.25 748.1ZM359.45 748.1L359.79 600V530.9L360.72 529.6L361.65 530.9V600L361.99 748.1ZM363.19 748.1L363.53 600V529.6L364.46 528.3L365.39 529.6V600L365.73 748.1ZM366.93 748.1L367.27 600V529.2L368.20 527.9L369.13 529.2V600L369.47 748.1ZM370.67 748.1L371.01 600V529.9L371.94 528.6L372.87 529.9V600L373.21 748.1ZM374.41 748.1L374.75 600V527.8L375.68 526.5L376.61 527.8V600L376.95 748.1ZM378.15 748.1L378.49 600V528.8L379.42 527.5L380.35 528.8V600L380.69 748.1ZM381.89 748.1L382.23 600V525.3L383.16 524.0L384.09 525.3V600L384.43 748.1ZM385.63 748.1L385.97 600V527.4L386.90 526.1L387.83 527.4V600L388.17 748.1ZM389.37 748.1L389.71 600V524.3L390.64 523.0L391.57 524.3V600L391.91 748.1ZM393.11 748.1L393.45 600V525.6L394.38 524.3L395.31 525.6V600L395.65 748.1ZM396.85 748.1L397.19 600V528.2L398.12 526.9L399.05 528.2V600L399.39 748.1ZM400.59 748.1L400.93 600V527.3L401.86 526.0L402.79 527.3V600L403.13 748.1ZM404.33 748.1L404.67 600V526.2L405.60 524.9L406.53 526.2V600L406.87 748.1ZM408.07 748.1L408.41 600V527.2L409.34 525.9L410.27 527.2V600L410.61 748.1ZM411.81 748.1L412.15 600V525.6L413.08 524.3L414.01 525.6V600L414.35 748.1ZM415.55 748.1L415.89 600V524.3L416.82 523.0L417.75 524.3V600L418.09 748.1ZM419.29 748.1L419.63 600V527.5L420.56 526.2L421.49 527.5V600L421.83 748.1ZM423.03 748.1L423.37 600V526.8L424.30 525.5L425.23 526.8V600L425.57 748.1ZM426.77 748.1L427.11 600V526.0L428.04 524.7L428.97 526.0V600L429.31 748.1ZM430.51 748.1L430.85 600V523.8L431.78 522.5L432.71 523.8V600L433.05 748.1ZM434.25 748.1L434.59 600V524.5L435.52 523.2L436.45 524.5V600L436.79 748.1ZM437.99 748.1L438.33 600V522.5L439.26 521.2L440.19 522.5V600L440.53 748.1ZM441.73 748.1L442.07 600V521.1L443.00 519.8L443.93 521.1V600L444.27 748.1ZM445.47 748.1L445.81 600V523.4L446.74 522.1L447.67 523.4V600L448.01 748.1ZM449.21 748.1L449.55 600V519.7L450.48 518.4L451.41 519.7V600L451.75 748.1ZM452.95 748.1L453.29 600V518.0L454.22 516.7L455.15 518.0V600L455.49 748.1ZM456.69 748.1L457.03 600V519.5L457.96 518.2L458.89 519.5V600L459.23 748.1ZM460.43 748.1L460.77 600V517.6L461.70 516.3L462.63 517.6V600L462.97 748.1ZM464.17 748.1L464.51 600V518.1L465.44 516.8L466.37 518.1V600L466.71 748.1ZM467.91 748.1L468.25 600V515.7L469.18 514.4L470.11 515.7V600L470.45 748.1ZM471.65 748.1L471.99 600V517.0L472.92 515.7L473.85 517.0V600L474.19 748.1ZM475.39 748.1L475.73 600V516.8L476.66 515.5L477.59 516.8V600L477.93 748.1ZM479.13 748.1L479.47 600V516.2L480.40 514.9L481.33 516.2V600L481.67 748.1ZM482.87 748.1L483.21 600V515.7L484.14 514.4L485.07 515.7V600L485.41 748.1ZM486.61 748.1L486.95 600V518.5L487.88 517.2L488.81 518.5V600L489.15 748.1ZM490.35 748.1L490.69 600V517.6L491.62 516.3L492.55 517.6V600L492.89 748.1ZM494.09 748.1L494.43 600V516.1L495.36 514.8L496.29 516.1V600L496.63 748.1ZM497.83 748.1L498.17 600V514.1L499.10 512.8L500.03 514.1V600L500.37 748.1ZM501.57 748.1L501.91 600V514.9L502.84 513.6L503.77 514.9V600L504.11 748.1ZM505.31 748.1L505.65 600V513.2L506.58 511.9L507.51 513.2V600L507.85 748.1ZM509.05 748.1L509.39 600V510.4L510.32 509.1L511.25 510.4V600L511.59 748.1ZM512.79 748.1L513.13 600V511.9L514.06 510.6L514.99 511.9V600L515.33 748.1ZM516.53 748.1L516.87 600V511.0L517.80 509.7L518.73 511.0V600L519.07 748.1ZM520.27 748.1L520.61 600V511.2L521.54 509.9L522.47 511.2V600L522.81 748.1ZM524.01 748.1L524.35 600V509.6L525.28 508.3L526.21 509.6V600L526.55 748.1ZM527.75 748.1L528.09 600V507.1L529.02 505.8L529.95 507.1V600L530.29 748.1ZM531.49 748.1L531.83 600V508.8L532.76 507.5L533.69 508.8V600L534.03 748.1ZM535.23 748.1L535.57 600V508.3L536.50 507.0L537.43 508.3V600L537.77 748.1ZM538.97 748.1L539.31 600V509.5L540.24 508.2L541.17 509.5V600L541.51 748.1ZM542.71 748.1L543.05 600V512.2L543.98 510.9L544.91 512.2V600L545.25 748.1ZM546.45 748.1L546.79 600V512.2L547.72 510.9L548.65 512.2V600L548.99 748.1ZM550.19 748.1L550.53 600V513.2L551.46 511.9L552.39 513.2V600L552.73 748.1ZM553.93 748.1L554.27 600V517.3L555.20 516.0L556.13 517.3V600L556.47 748.1ZM557.67 748.1L558.01 600V520.2L558.94 518.9L559.87 520.2V600L560.21 748.1ZM561.41 748.1L561.75 600V522.2L562.68 520.9L563.61 522.2V600L563.95 748.1ZM565.15 748.1L565.49 600V521.6L566.42 520.3L567.35 521.6V600L567.69 748.1ZM568.89 748.1L569.23 600V525.3L570.16 524.0L571.09 525.3V600L571.43 748.1ZM572.63 748.1L572.97 600V525.1L573.90 523.8L574.83 525.1V600L575.17 748.1ZM576.37 748.1L576.71 600V522.6L577.64 521.3L578.57 522.6V600L578.91 748.1ZM580.11 748.1L580.45 600V524.9L581.38 523.6L582.31 524.9V600L582.65 748.1ZM583.85 748.1L584.19 600V521.9L585.12 520.6L586.05 521.9V600L586.39 748.1ZM587.59 748.1L587.93 600V524.4L588.86 523.1L589.79 524.4V600L590.13 748.1ZM591.33 748.1L591.67 600V525.5L592.60 524.2L593.53 525.5V600L593.87 748.1ZM595.07 748.1L595.41 600V527.7L596.34 526.4L597.27 527.7V600L597.61 748.1ZM598.81 748.1L599.15 600V531.2L600.08 529.9L601.01 531.2V600L601.35 748.1ZM602.55 748.1L602.89 600V529.8L603.82 528.5L604.75 529.8V600L605.09 748.1ZM606.29 748.1L606.63 600V529.2L607.56 527.9L608.49 529.2V600L608.83 748.1ZM610.03 748.1L610.37 600V531.0L611.30 529.7L612.23 531.0V600L612.57 748.1ZM613.77 748.1L614.11 600V529.8L615.04 528.5L615.97 529.8V600L616.31 748.1ZM617.51 748.1L617.85 600V531.0L618.78 529.7L619.71 531.0V600L620.05 748.1ZM621.25 748.1L621.59 600V533.9L622.52 532.6L623.45 533.9V600L623.79 748.1ZM624.99 748.1L625.33 600V535.7L626.26 534.4L627.19 535.7V600L627.53 748.1ZM628.73 748.1L629.07 600V537.2L630.00 535.9L630.93 537.2V600L631.27 748.1ZM632.47 748.1L632.81 600V538.8L633.74 537.5L634.67 538.8V600L635.01 748.1ZM636.21 748.1L636.55 600V543.0L637.48 541.7L638.41 543.0V600L638.75 748.1ZM639.95 748.1L640.29 600V540.3L641.22 539.0L642.15 540.3V600L642.49 748.1ZM643.69 748.1L644.03 600V539.2L644.96 537.9L645.89 539.2V600L646.23 748.1ZM647.43 748.1L647.77 600V540.5L648.70 539.2L649.63 540.5V600L649.97 748.1ZM651.17 748.1L651.51 600V540.7L652.44 539.4L653.37 540.7V600L653.71 748.1ZM654.91 748.1L655.25 600V540.3L656.18 539.0L657.11 540.3V600L657.45 748.1ZM658.65 748.1L658.99 600V541.7L659.92 540.4L660.85 541.7V600L661.19 748.1ZM662.39 748.1L662.73 600V538.4L663.66 537.1L664.59 538.4V600L664.93 748.1ZM666.13 748.1L666.47 600V540.0L667.40 538.7L668.33 540.0V600L668.67 748.1ZM669.87 748.1L670.21 600V541.5L671.14 540.2L672.07 541.5V600L672.41 748.1ZM673.61 748.1L673.95 600V542.2L674.88 540.9L675.81 542.2V600L676.15 748.1ZM677.35 748.1L677.69 600V538.9L678.62 537.6L679.55 538.9V600L679.89 748.1ZM681.09 748.1L681.43 600V541.2L682.36 539.9L683.29 541.2V600L683.63 748.1ZM684.83 748.1L685.17 600V539.0L686.10 537.7L687.03 539.0V600L687.37 748.1ZM688.57 748.1L688.91 600V539.8L689.84 538.5L690.77 539.8V600L691.11 748.1ZM692.31 748.1L692.65 600V541.3L693.58 540.0L694.51 541.3V600L694.85 748.1ZM696.05 748.1L696.39 600V541.3L697.32 540.0L698.25 541.3V600L698.59 748.1ZM699.79 748.1L700.13 600V538.4L701.06 537.1L701.99 538.4V600L702.33 748.1ZM703.53 748.1L703.87 600V539.4L704.80 538.1L705.73 539.4V600L706.07 748.1ZM707.27 748.1L707.61 600V542.5L708.54 541.2L709.47 542.5V600L709.81 748.1ZM711.01 748.1L711.35 600V541.1L712.28 539.8L713.21 541.1V600L713.55 748.1ZM714.75 748.1L715.09 600V541.3L716.02 540.0L716.95 541.3V600L717.29 748.1ZM718.49 748.1L718.83 600V540.1L719.76 538.8L720.69 540.1V600L721.03 748.1ZM722.23 748.1L722.57 600V541.1L723.50 539.8L724.43 541.1V600L724.77 748.1ZM725.97 748.1L726.31 600V540.5L727.24 539.2L728.17 540.5V600L728.51 748.1ZM729.71 748.1L730.05 600V533.8L730.98 532.5L731.91 533.8V600L732.25 748.1ZM733.45 748.1L733.79 600V533.4L734.72 532.1L735.65 533.4V600L735.99 748.1ZM737.19 748.1L737.53 600V533.5L738.46 532.2L739.39 533.5V600L739.73 748.1ZM740.93 748.1L741.27 600V532.3L742.20 531.0L743.13 532.3V600L743.47 748.1ZM744.67 748.1L745.01 600V531.3L745.94 530.0L746.87 531.3V600L747.21 748.1ZM748.41 748.1L748.75 600V530.1L749.68 528.8L750.61 530.1V600L750.95 748.1ZM752.15 748.1L752.49 600V530.2L753.42 528.9L754.35 530.2V600L754.69 748.1ZM755.89 748.1L756.23 600V531.8L757.16 530.5L758.09 531.8V600L758.43 748.1ZM759.63 748.1L759.97 600V531.7L760.90 530.4L761.83 531.7V600L762.17 748.1ZM763.37 748.1L763.71 600V531.4L764.64 530.1L765.57 531.4V600L765.91 748.1ZM767.11 748.1L767.45 600V528.2L768.38 526.9L769.31 528.2V600L769.65 748.1ZM770.85 748.1L771.19 600V528.0L772.12 526.7L773.05 528.0V600L773.39 748.1ZM774.59 748.1L774.93 600V526.7L775.86 525.4L776.79 526.7V600L777.13 748.1ZM778.33 748.1L778.67 600V523.0L779.60 521.7L780.53 523.0V600L780.87 748.1ZM782.07 748.1L782.41 600V521.7L783.34 520.4L784.27 521.7V600L784.61 748.1ZM785.81 748.1L786.15 600V523.5L787.08 522.2L788.01 523.5V600L788.35 748.1ZM789.55 748.1L789.89 600V523.5L790.82 522.2L791.75 523.5V600L792.09 748.1ZM793.29 748.1L793.63 600V524.2L794.56 522.9L795.49 524.2V600L795.83 748.1ZM797.03 748.1L797.37 600V522.1L798.30 520.8L799.23 522.1V600L799.57 748.1ZM800.77 748.1L801.11 600V521.3L802.04 520.0L802.97 521.3V600L803.31 748.1ZM804.51 748.1L804.85 600V522.1L805.78 520.8L806.71 522.1V600L807.05 748.1ZM808.25 748.1L808.59 600V519.7L809.52 518.4L810.45 519.7V600L810.79 748.1ZM811.99 748.1L812.33 600V516.2L813.26 514.9L814.19 516.2V600L814.53 748.1ZM815.73 748.1L816.07 600V514.0L817.00 512.7L817.93 514.0V600L818.27 748.1ZM819.47 748.1L819.81 600V514.7L820.74 513.4L821.67 514.7V600L822.01 748.1ZM823.21 748.1L823.55 600V516.0L824.48 514.7L825.41 516.0V600L825.75 748.1ZM826.95 748.1L827.29 600V514.6L828.22 513.3L829.15 514.6V600L829.49 748.1ZM830.69 748.1L831.03 600V515.5L831.96 514.2L832.89 515.5V600L833.23 748.1ZM834.43 748.1L834.77 600V512.9L835.70 511.6L836.63 512.9V600L836.97 748.1ZM838.17 748.1L838.51 600V514.4L839.44 513.1L840.37 514.4V600L840.71 748.1ZM841.91 748.1L842.25 600V511.6L843.18 510.3L844.11 511.6V600L844.45 748.1ZM845.65 748.1L845.99 600V514.3L846.92 513.0L847.85 514.3V600L848.19 748.1ZM849.39 748.1L849.73 600V511.2L850.66 509.9L851.59 511.2V600L851.93 748.1ZM853.13 748.1L853.47 600V510.5L854.40 509.2L855.33 510.5V600L855.67 748.1ZM856.87 748.1L857.21 600V514.2L858.14 512.9L859.07 514.2V600L859.41 748.1ZM860.61 748.1L860.95 600V512.6L861.88 511.3L862.81 512.6V600L863.15 748.1ZM864.35 748.1L864.69 600V513.3L865.62 512.0L866.55 513.3V600L866.89 748.1ZM868.09 748.1L868.43 600V512.6L869.36 511.3L870.29 512.6V600L870.63 748.1ZM871.83 748.1L872.17 600V513.5L873.10 512.2L874.03 513.5V600L874.37 748.1ZM875.57 748.1L875.91 600V515.8L876.84 514.5L877.77 515.8V600L878.11 748.1ZM879.31 748.1L879.65 600V516.5L880.58 515.2L881.51 516.5V600L881.85 748.1ZM883.05 748.1L883.39 600V516.4L884.32 515.1L885.25 516.4V600L885.59 748.1ZM886.79 748.1L887.13 600V514.4L888.06 513.1L888.99 514.4V600L889.33 748.1ZM890.53 748.1L890.87 600V514.1L891.80 512.8L892.73 514.1V600L893.07 748.1ZM894.27 748.1L894.61 600V511.5L895.54 510.2L896.47 511.5V600L896.81 748.1ZM898.01 748.1L898.35 600V513.6L899.28 512.3L900.21 513.6V600L900.55 748.1ZM901.75 748.1L902.09 600V514.1L903.02 512.8L903.95 514.1V600L904.29 748.1ZM905.49 748.1L905.83 600V515.5L906.76 514.2L907.69 515.5V600L908.03 748.1ZM909.23 748.1L909.57 600V514.8L910.50 513.5L911.43 514.8V600L911.77 748.1Z" fill="#3aa81a"/>
<path d="M162.5 748.4L162.50 735.7L164.37 738.9L166.24 735.7L166.24 740.1L168.11 742.0L169.98 740.1L169.98 744.6L171.85 744.5L173.72 744.6L173.72 744.6L175.59 746.2L177.46 744.6L177.46 734.5L179.33 738.4L181.20 734.5L181.20 733.9L183.07 735.6L184.94 733.9L184.94 741.2L186.81 741.7L188.68 741.2L188.68 740.3L190.55 742.3L192.42 740.3L192.42 735.1L194.29 737.6L196.16 735.1L196.16 736.9L198.03 739.1L199.90 736.9L199.90 738.1L201.77 737.4L203.64 738.1L203.64 744.6L205.51 742.7L207.38 744.6L207.38 736.0L209.25 735.9L211.12 736.0L211.12 744.4L212.99 745.0L214.86 744.4L214.86 744.6L216.73 747.6L218.60 744.6L218.60 734.9L220.47 733.4L222.34 734.9L222.34 744.2L224.21 747.3L226.08 744.2L226.08 731.6L227.95 729.9L229.82 731.6L229.82 728.2L231.69 728.1L233.56 728.2L233.56 731.2L235.43 731.6L237.30 731.2L237.30 734.9L239.17 738.5L241.04 734.9L241.04 734.7L242.91 738.4L244.78 734.7L244.78 742.8L246.65 741.0L248.52 742.8L248.52 744.3L250.39 743.5L252.26 744.3L252.26 736.8L254.13 737.4L256.00 736.8L256.00 737.3L257.87 736.9L259.74 737.3L259.74 744.6L261.61 748.3L263.48 744.6L263.48 734.9L265.35 736.6L267.22 734.9L267.22 739.3L269.09 739.3L270.96 739.3L270.96 740.7L272.83 742.3L274.70 740.7L274.70 741.2L276.57 743.3L278.44 741.2L278.44 732.6L280.31 735.7L282.18 732.6L282.18 734.7L284.05 738.0L285.92 734.7L285.92 731.5L287.79 732.0L289.66 731.5L289.66 740.7L291.53 743.2L293.40 740.7L293.40 740.8L295.27 744.6L297.14 740.8L297.14 742.9L299.01 744.2L300.88 742.9L300.88 737.3L302.75 739.7L304.62 737.3L304.62 726.1L306.49 727.0L308.36 726.1L308.36 744.6L310.23 744.9L312.10 744.6L312.10 734.2L313.97 733.4L315.84 734.2L315.84 735.9L317.71 734.4L319.58 735.9L319.58 732.5L321.45 732.5L323.32 732.5L323.32 738.1L325.19 738.3L327.06 738.1L327.06 742.7L328.93 744.1L330.80 742.7L330.80 744.6L332.67 746.6L334.54 744.6L334.54 739.9L336.41 742.2L338.28 739.9L338.28 732.3L340.15 734.9L342.02 732.3L342.02 744.6L343.89 746.0L345.76 744.6L345.76 732.1L347.63 733.2L349.50 732.1L349.50 732.0L351.37 733.7L353.24 732.0L353.24 734.8L355.11 737.0L356.98 734.8L356.98 744.6L358.85 747.7L360.72 744.6L360.72 738.5L362.59 738.0L364.46 738.5L364.46 743.8L366.33 747.0L368.20 743.8L368.20 741.5L370.07 740.7L371.94 741.5L371.94 740.6L373.81 738.7L375.68 740.6L375.68 744.6L377.55 747.4L379.42 744.6L379.42 736.7L381.29 736.1L383.16 736.7L383.16 737.4L385.03 740.4L386.90 737.4L386.90 744.6L388.77 744.7L390.64 744.6L390.64 742.0L392.51 742.1L394.38 742.0L394.38 738.1L396.25 741.3L398.12 738.1L398.12 741.7L399.99 744.3L401.86 741.7L401.86 743.4L403.73 741.8L405.60 743.4L405.60 742.7L407.47 746.4L409.34 742.7L409.34 739.3L411.21 738.5L413.08 739.3L413.08 735.1L414.95 737.1L416.82 735.1L416.82 734.7L418.69 738.4L420.56 734.7L420.56 738.5L422.43 741.6L424.30 738.5L424.30 744.6L426.17 745.5L428.04 744.6L428.04 744.6L429.91 748.3L431.78 744.6L431.78 730.6L433.65 732.7L435.52 730.6L435.52 733.8L437.39 733.3L439.26 733.8L439.26 733.4L441.13 737.2L443.00 733.4L443.00 733.9L444.87 735.3L446.74 733.9L446.74 733.0L448.61 732.9L450.48 733.0L450.48 732.1L452.35 732.7L454.22 732.1L454.22 734.7L456.09 733.8L457.96 734.7L457.96 730.4L459.83 731.9L461.70 730.4L461.70 737.7L463.57 739.1L465.44 737.7L465.44 726.0L467.31 725.0L469.18 726.0L469.18 740.4L471.05 740.9L472.92 740.4L472.92 727.5L474.79 727.1L476.66 727.5L476.66 738.3L478.53 741.7L480.40 738.3L480.40 734.4L482.27 733.6L484.14 734.4L484.14 738.1L486.01 739.7L487.88 738.1L487.88 731.2L489.75 733.1L491.62 731.2L491.62 729.8L493.49 731.5L495.36 729.8L495.36 734.8L497.23 735.0L499.10 734.8L499.10 728.5L500.97 728.0L502.84 728.5L502.84 732.5L504.71 730.6L506.58 732.5L506.58 734.8L508.45 734.1L510.32 734.8L510.32 728.5L512.19 731.4L514.06 728.5L514.06 739.7L515.93 739.4L517.80 739.7L517.80 734.6L519.67 735.8L521.54 734.6L521.54 736.2L523.41 736.0L525.28 736.2L525.28 738.9L527.15 737.3L529.02 738.9L529.02 742.8L530.89 743.3L532.76 742.8L532.76 730.1L534.63 734.1L536.50 730.1L536.50 730.3L538.37 730.7L540.24 730.3L540.24 728.4L542.11 728.4L543.98 728.4L543.98 741.1L545.85 742.5L547.72 741.1L547.72 731.9L549.59 732.0L551.46 731.9L551.46 735.7L553.33 735.1L555.20 735.7L555.20 726.1L557.07 726.4L558.94 726.1L558.94 737.6L560.81 741.0L562.68 737.6L562.68 724.0L564.55 722.8L566.42 724.0L566.42 732.0L568.29 730.8L570.16 732.0L570.16 720.9L572.03 723.5L573.90 720.9L573.90 734.3L575.77 733.5L577.64 734.3L577.64 726.7L579.51 725.5L581.38 726.7L581.38 730.5L583.25 730.0L585.12 730.5L585.12 730.1L586.99 733.4L588.86 730.1L588.86 723.7L590.73 727.4L592.60 723.7L592.60 727.8L594.47 731.4L596.34 727.8L596.34 720.5L598.21 720.4L600.08 720.5L600.08 733.0L601.95 736.5L603.82 733.0L603.82 727.8L605.69 726.2L607.56 727.8L607.56 724.9L609.43 725.8L611.30 724.9L611.30 726.8L613.17 728.1L615.04 726.8L615.04 727.0L616.91 727.7L618.78 727.0L618.78 723.1L620.65 726.9L622.52 723.1L622.52 726.4L624.39 728.9L626.26 726.4L626.26 731.3L628.13 732.2L630.00 731.3L630.00 729.5L631.87 731.8L633.74 729.5L633.74 736.4L635.61 738.9L637.48 736.4L637.48 732.5L639.35 731.2L641.22 732.5L641.22 733.6L643.09 733.5L644.96 733.6L644.96 722.2L646.83 722.2L648.70 722.2L648.70 727.7L650.57 731.3L652.44 727.7L652.44 722.8L654.31 725.9L656.18 722.8L656.18 722.2L658.05 722.0L659.92 722.2L659.92 723.1L661.79 727.0L663.66 723.1L663.66 726.5L665.53 724.9L667.40 726.5L667.40 723.5L669.27 723.5L671.14 723.5L671.14 722.8L673.01 722.0L674.88 722.8L674.88 722.0L676.75 723.1L678.62 722.0L678.62 731.6L680.49 735.0L682.36 731.6L682.36 722.3L684.23 725.0L686.10 722.3L686.10 729.9L687.97 728.1L689.84 729.9L689.84 730.8L691.71 730.3L693.58 730.8L693.58 724.6L695.45 727.2L697.32 724.6L697.32 729.9L699.19 729.6L701.06 729.9L701.06 730.0L702.93 732.9L704.80 730.0L704.80 726.8L706.67 728.5L708.54 726.8L708.54 721.7L710.41 723.9L712.28 721.7L712.28 716.7L714.15 718.9L716.02 716.7L716.02 715.8L717.89 717.2L719.76 715.8L719.76 713.4L721.63 712.5L723.50 713.4L723.50 715.5L725.37 718.4L727.24 715.5L727.24 720.0L729.11 721.4L730.98 720.0L730.98 718.0L732.85 720.4L734.72 718.0L734.72 722.6L736.59 720.8L738.46 722.6L738.46 714.9L740.33 713.9L742.20 714.9L742.20 719.5L744.07 720.9L745.94 719.5L745.94 712.2L747.81 715.0L749.68 712.2L749.68 712.1L751.55 712.2L753.42 712.1L753.42 720.0L755.29 722.5L757.16 720.0L757.16 711.2L759.03 709.2L760.90 711.2L760.90 713.8L762.77 712.1L764.64 713.8L764.64 708.5L766.51 710.6L768.38 708.5L768.38 713.8L770.25 717.7L772.12 713.8L772.12 705.2L773.99 705.1L775.86 705.2L775.86 702.4L777.73 702.4L779.60 702.4L779.60 710.4L781.47 710.4L783.34 710.4L783.34 707.2L785.21 708.7L787.08 707.2L787.08 708.7L788.95 709.1L790.82 708.7L790.82 698.5L792.69 698.7L794.56 698.5L794.56 708.6L796.43 711.2L798.30 708.6L798.30 690.7L800.17 688.7L802.04 690.7L802.04 709.2L803.91 712.4L805.78 709.2L805.78 707.8L807.65 710.2L809.52 707.8L809.52 704.5L811.39 708.2L813.26 704.5L813.26 697.3L815.13 700.4L817.00 697.3L817.00 703.6L818.87 706.3L820.74 703.6L820.74 710.1L822.61 709.8L824.48 710.1L824.48 706.6L826.35 709.3L828.22 706.6L828.22 706.6L830.09 708.2L831.96 706.6L831.96 696.5L833.83 696.6L835.70 696.5L835.70 695.8L837.57 698.6L839.44 695.8L839.44 704.4L841.31 705.3L843.18 704.4L843.18 700.9L845.05 704.8L846.92 700.9L846.92 696.4L848.79 698.7L850.66 696.4L850.66 694.7L852.53 698.0L854.40 694.7L854.40 695.7L856.27 699.1L858.14 695.7L858.14 704.2L860.01 705.7L861.88 704.2L861.88 694.5L863.75 697.9L865.62 694.5L865.62 706.2L867.49 707.7L869.36 706.2L869.36 694.0L871.23 695.1L873.10 694.0L873.10 700.6L874.97 704.6L876.84 700.6L876.84 703.1L878.71 705.3L880.58 703.1L880.58 704.5L882.45 706.7L884.32 704.5L884.32 701.6L886.19 705.6L888.06 701.6L888.06 706.0L889.93 707.8L891.80 706.0L891.80 700.3L893.67 698.3L895.54 700.3L895.54 695.2L897.41 697.3L899.28 695.2L899.28 695.8L901.15 697.5L903.02 695.8L903.02 696.9L904.89 699.3L906.76 696.9L906.76 698.3L908.63 702.1L910.50 698.3L910.5 748.4Z" fill="#3aa81a"/></g>
<text transform="translate(164.5,790.5) scale(1,1.08)" font-size="28.8" text-anchor="middle" fill="#111">18</text>
<text transform="translate(258.0,790.5) scale(1,1.08)" font-size="28.8" text-anchor="middle" fill="#111">19</text>
<text transform="translate(350.5,790.5) scale(1,1.08)" font-size="28.8" text-anchor="middle" fill="#111">20</text>
<text transform="translate(443.8,790.5) scale(1,1.08)" font-size="28.8" text-anchor="middle" fill="#111">21</text>
<text transform="translate(536.5,790.5) scale(1,1.08)" font-size="28.8" text-anchor="middle" fill="#111">22</text>
<text transform="translate(630.0,790.5) scale(1,1.08)" font-size="28.8" text-anchor="middle" fill="#111">23</text>
<text transform="translate(723.5,790.5) scale(1,1.08)" font-size="28.8" text-anchor="middle" fill="#111">24</text>
<text transform="translate(817.0,790.5) scale(1,1.08)" font-size="28.8" text-anchor="middle" fill="#111">25</text>
<text transform="translate(910.1,790.5) scale(1,1.08)" font-size="28.8" text-anchor="middle" fill="#111">26</text>
<text transform="translate(141.2,512.3) scale(1,1.08)" font-size="28.8" text-anchor="end" fill="#111">–60</text>
<text transform="translate(141.2,593.6) scale(1,1.08)" font-size="28.8" text-anchor="end" fill="#111">–70</text>
<text transform="translate(141.2,674.8) scale(1,1.08)" font-size="28.8" text-anchor="end" fill="#111">–80</text>
<text transform="translate(141.2,756.1) scale(1,1.08)" font-size="28.8" text-anchor="end" fill="#111">–90</text>
<text transform="translate(542.7,826.7) scale(1,1.04)" font-size="29.3" text-anchor="middle" fill="#111">Frequency (GHz)</text>
<text transform="translate(65,611) rotate(-90) scale(1,1.04)" font-size="33.5" text-anchor="middle" fill="#111">Power (dBm)</text>
<text transform="translate(-1.7,463.6) scale(1.03,0.97)" font-size="42" font-weight="bold" fill="#111">b</text>
<rect x="164.6" y="846.5" width="746.4" height="284.3" fill="#f2f2f2"/>
<rect x="164.6" y="846.5" width="746.4" height="284.3" fill="none" stroke="#000" stroke-width="2.8"/>
<path d="M164.6 1130.8v10.2M537.8 1130.8v10.2M911.0 1130.8v10.2M351.2 1130.8v5.4M724.4 1130.8v5.4M164.6 887.0h-10.4M164.6 968.3h-10.4M164.6 1049.5h-10.4M164.6 1130.8h-10.4M164.6 846.4h-5.6M164.6 927.6h-5.6M164.6 1008.9h-5.6M164.6 1090.2h-5.6" fill="none" stroke="#000" stroke-width="2.2"/>
<clipPath id="cc"><rect x="164.6" y="846.5" width="746.4" height="284.7"/></clipPath>
<g clip-path="url(#cc)"><path d="M162.5 1131.2L164.4 904.3L166.3 1131.2M192.4 1131.2L194.3 905.3L196.2 1131.2M222.2 1131.2L224.1 901.8L226.0 1131.2M252.1 1131.2L254.0 904.3L255.9 1131.2M281.9 1131.2L283.8 903.3L285.7 1131.2M311.8 1131.2L313.7 899.2L315.6 1131.2M341.6 1131.2L343.5 900.8L345.4 1131.2M371.5 1131.2L373.4 899.2L375.3 1131.2M401.3 1131.2L403.2 898.4L405.1 1131.2M431.2 1131.2L433.1 899.2L435.0 1131.2M461.1 1131.2L463.0 899.2L464.9 1131.2M490.9 1131.2L492.8 899.1L494.7 1131.2M520.8 1131.2L522.7 900.6L524.6 1131.2M550.6 1131.2L552.5 899.1L554.4 1131.2M580.5 1131.2L582.4 900.6L584.3 1131.2M610.3 1131.2L612.2 899.1L614.1 1131.2M640.2 1131.2L642.1 898.1L644.0 1131.2M670.1 1131.2L672.0 895.1L673.9 1131.2M699.9 1131.2L701.8 895.1L703.7 1131.2M729.8 1131.2L731.7 895.1L733.6 1131.2M759.6 1131.2L761.5 893.1L763.4 1131.2M789.5 1131.2L791.4 891.6L793.3 1131.2M819.3 1131.2L821.2 890.6L823.1 1131.2M849.2 1131.2L851.1 891.6L853.0 1131.2M879.0 1131.2L880.9 892.6L882.8 1131.2M908.9 1131.2L910.8 891.6L912.7 1131.2" stroke="#62b808" stroke-width="1.65" fill="none" stroke-linejoin="miter" stroke-miterlimit="20"/>
<path d="M172.1 1131.2v-4.6M179.5 1131.2v-4.0M187.0 1131.2v-12.0M201.9 1131.2v-2.0M209.4 1131.2v-4.0M216.8 1131.2v-2.0M239.2 1131.2v-6.7M246.7 1131.2v-4.0M261.6 1131.2v-15.0M269.1 1131.2v-10.5M276.6 1131.2v-4.4M306.4 1131.2v-9.0M321.3 1131.2v-1.5M328.8 1131.2v-4.0M336.3 1131.2v-5.5M351.2 1131.2v-10.0M358.7 1131.2v-10.0M366.1 1131.2v-8.0M381.1 1131.2v-8.0M388.5 1131.2v-7.0M396.0 1131.2v-10.0M410.9 1131.2v-9.5M418.4 1131.2v-24.0M425.8 1131.2v-8.5M440.8 1131.2v-17.0M448.2 1131.2v-6.5M455.7 1131.2v-15.0M470.6 1131.2v-1.6M478.1 1131.2v-4.0M485.6 1131.2v-12.0M500.5 1131.2v-4.6M507.9 1131.2v-20.0M515.4 1131.2v-6.5M530.3 1131.2v-11.5M537.8 1131.2v-21.0M545.3 1131.2v-14.0M560.2 1131.2v-14.0M567.7 1131.2v-7.7M575.1 1131.2v-18.0M590.0 1131.2v-13.0M597.5 1131.2v-22.0M605.0 1131.2v-13.0M619.9 1131.2v-16.0M627.4 1131.2v-11.0M634.8 1131.2v-10.0M649.8 1131.2v-29.0M657.2 1131.2v-14.5M664.7 1131.2v-14.0M679.6 1131.2v-19.0M687.1 1131.2v-13.0M694.5 1131.2v-16.0M709.5 1131.2v-22.0M716.9 1131.2v-11.0M724.4 1131.2v-8.0M739.3 1131.2v-14.0M746.8 1131.2v-15.0M754.3 1131.2v-10.0M769.2 1131.2v-3.4M776.6 1131.2v-6.0M784.1 1131.2v-8.0M799.0 1131.2v-13.0M806.5 1131.2v-3.6M814.0 1131.2v-6.0M828.9 1131.2v-9.0M836.4 1131.2v-28.0M843.8 1131.2v-18.0M858.8 1131.2v-9.0M866.2 1131.2v-2.6M873.7 1131.2v-9.0M888.6 1131.2v-14.3M896.1 1131.2v-18.6M903.5 1131.2v-9.5" stroke="#62b808" stroke-width="1.7" fill="none"/></g>
<text x="236.2" y="881.8" font-size="25.3" fill="#7abc14">40 MHz spacing</text>
<path d="M319.8 898.4H333.3" stroke="#7abc14" stroke-width="1.6"/>
<path d="M311.8 898.4l11.2 -6.3v12.6zM341.3 898.4l-11.2 -6.3v12.6z" fill="#7abc14"/>
<text transform="translate(166.4,1172.7) scale(1,1.08)" font-size="28.8" text-anchor="middle" fill="#111">21.0</text>
<text transform="translate(539.4,1172.7) scale(1,1.08)" font-size="28.8" text-anchor="middle" fill="#111">21.5</text>
<text transform="translate(910.2,1172.7) scale(1,1.08)" font-size="28.8" text-anchor="middle" fill="#111">22.0</text>
<text transform="translate(142.4,895.3) scale(1,1.08)" font-size="28.8" text-anchor="end" fill="#111">–60</text>
<text transform="translate(142.4,976.6) scale(1,1.08)" font-size="28.8" text-anchor="end" fill="#111">–70</text>
<text transform="translate(142.4,1057.8) scale(1,1.08)" font-size="28.8" text-anchor="end" fill="#111">–80</text>
<text transform="translate(142.4,1139.1) scale(1,1.08)" font-size="28.8" text-anchor="end" fill="#111">–90</text>
<text transform="translate(542.7,1209.3) scale(1,1.04)" font-size="29.3" text-anchor="middle" fill="#111">Frequency (GHz)</text>
<text transform="translate(71.3,1009.8) rotate(-90) scale(1,1.04)" font-size="33.5" text-anchor="middle" fill="#111">Power (dBm)</text>
<text transform="translate(-1.7,845.5) scale(1.03,1.03)" font-size="42" font-weight="bold" fill="#111">c</text>
</svg>
</body></html>
